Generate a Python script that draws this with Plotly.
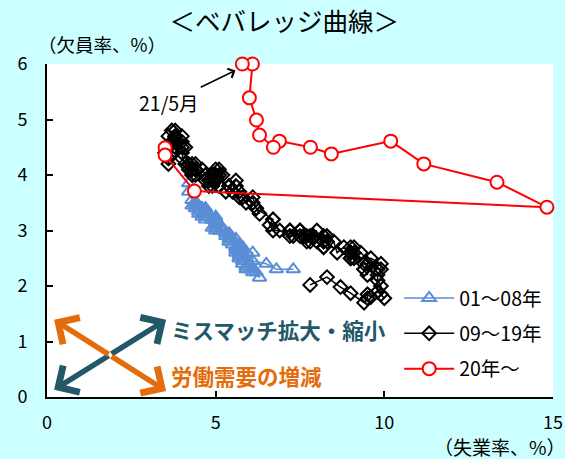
import plotly.graph_objects as go

# Beveridge curve: unemployment rate (x) vs vacancy rate (y), monthly

# 2001-2008
u_0108 = [4.2, 4.2, 4.3, 4.4, 4.3, 4.5, 4.6, 4.9, 5.0, 5.3, 5.5, 5.7,
          5.7, 5.7, 5.7, 5.9, 5.8, 5.8, 5.8, 5.7, 5.7, 5.7, 5.9, 6.0,
          5.8, 5.9, 5.9, 6.0, 6.1, 6.3, 6.2, 6.1, 6.1, 6.0, 5.8, 5.7,
          5.7, 5.6, 5.8, 5.6, 5.6, 5.6, 5.5, 5.4, 5.4, 5.5, 5.4, 5.4,
          5.3, 5.4, 5.2, 5.2, 5.1, 5.0, 5.0, 4.9, 5.0, 5.0, 5.0, 4.9,
          4.7, 4.8, 4.7, 4.7, 4.6, 4.6, 4.7, 4.7, 4.5, 4.4, 4.5, 4.4,
          4.6, 4.5, 4.4, 4.5, 4.4, 4.6, 4.7, 4.6, 4.7, 4.7, 4.7, 5.0,
          5.0, 4.9, 5.1, 5.0, 5.4, 5.6, 5.8, 6.1, 6.1, 6.5, 6.8, 7.3]
v_0108 = [3.85, 3.7, 3.55, 3.4, 3.45, 3.35, 3.3, 3.2, 3.05, 2.95, 2.85, 2.75,
          2.7, 2.6, 2.65, 2.6, 2.5, 2.6, 2.55, 2.5, 2.6, 2.5, 2.45, 2.4,
          2.4, 2.35, 2.3, 2.3, 2.25, 2.15, 2.25, 2.3, 2.3, 2.4, 2.45, 2.5,
          2.55, 2.6, 2.55, 2.65, 2.7, 2.7, 2.75, 2.8, 2.8, 2.85, 2.85, 2.9,
          2.9, 2.95, 3.0, 3.05, 3.0, 3.1, 3.15, 3.2, 3.2, 3.15, 3.25, 3.2,
          3.3, 3.25, 3.4, 3.35, 3.4, 3.3, 3.35, 3.4, 3.3, 3.45, 3.4, 3.5,
          3.4, 3.45, 3.5, 3.35, 3.5, 3.4, 3.3, 3.25, 3.3, 3.2, 3.25, 3.2,
          3.1, 3.05, 3.0, 3.0, 2.9, 2.85, 2.7, 2.6, 2.45, 2.4, 2.3, 2.3]

# 2009-2019
u_0919 = [7.8, 8.3, 8.7, 9.0, 9.4, 9.5, 9.5, 9.6, 9.8, 10.0, 9.9, 9.9,
          9.8, 9.8, 9.9, 9.9, 9.6, 9.4, 9.4, 9.5, 9.5, 9.4, 9.8, 9.3,
          9.1, 9.0, 9.0, 9.1, 9.0, 9.1, 9.0, 9.0, 9.0, 8.8, 8.6, 8.5,
          8.3, 8.3, 8.2, 8.2, 8.2, 8.2, 8.2, 8.0, 7.8, 7.8, 7.7, 7.9,
          8.0, 7.7, 7.5, 7.6, 7.5, 7.5, 7.3, 7.2, 7.2, 7.2, 6.9, 6.7,
          6.6, 6.7, 6.7, 6.2, 6.3, 6.1, 6.2, 6.1, 5.9, 5.7, 5.8, 5.6,
          5.7, 5.5, 5.4, 5.4, 5.6, 5.3, 5.2, 5.1, 5.0, 5.0, 5.1, 5.0,
          4.9, 4.9, 5.0, 5.1, 4.8, 4.9, 4.8, 4.9, 5.0, 4.9, 4.7, 4.7,
          4.7, 4.6, 4.4, 4.4, 4.4, 4.3, 4.3, 4.4, 4.3, 4.2, 4.2, 4.1,
          4.0, 4.1, 4.0, 4.0, 3.8, 4.0, 3.8, 3.8, 3.7, 3.8, 3.8, 3.9,
          4.0, 3.8, 3.8, 3.7, 3.6, 3.6, 3.7, 3.7, 3.5, 3.6, 3.6, 3.6]
v_0919 = [2.02, 2.16, 1.98, 1.87, 1.70, 1.78, 1.85, 1.80, 1.90, 1.78, 1.85, 2.0,
          2.1, 2.2, 2.3, 2.4, 2.5, 2.3, 2.3, 2.2, 2.4, 2.4, 2.3, 2.6,
          2.5, 2.6, 2.7, 2.6, 2.5, 2.7, 2.6, 2.5, 2.6, 2.7, 2.6, 2.8,
          2.9, 2.8, 2.9, 2.8, 2.7, 2.8, 2.7, 2.8, 2.8, 2.9, 2.8, 2.9,
          3.0, 2.9, 3.0, 2.9, 3.0, 2.9, 2.9, 3.0, 3.0, 2.9, 3.0, 3.0,
          3.1, 3.2, 3.2, 3.4, 3.3, 3.5, 3.4, 3.6, 3.5, 3.7, 3.6, 3.8,
          3.6, 3.7, 3.8, 3.8, 3.9, 3.7, 4.0, 3.8, 3.9, 4.0, 4.1, 4.1,
          3.9, 4.0, 3.9, 4.0, 3.8, 3.9, 3.9, 3.8, 4.0, 3.9, 4.0, 3.9,
          4.0, 4.1, 4.0, 4.1, 4.2, 4.0, 4.2, 4.1, 4.1, 4.2, 4.1, 4.2,
          4.3, 4.5, 4.4, 4.5, 4.5, 4.6, 4.6, 4.7, 4.8, 4.6, 4.7, 4.6,
          4.7, 4.6, 4.8, 4.6, 4.7, 4.5, 4.6, 4.4, 4.4, 4.3, 4.3, 4.2]

# 2020 onward (through 2021/5)
u_20 = [3.5, 3.5, 4.37, 14.82, 13.34, 11.17, 10.19, 8.43, 7.81, 6.89, 6.71,
        6.30, 6.21, 6.0, 6.09, 5.79]
v_20 = [4.49, 4.36, 3.71, 3.42, 3.87, 4.20, 4.61, 4.38, 4.50, 4.61, 4.50,
        4.72, 4.99, 5.39, 6.0, 6.0]

series_names = ["01～08年", "09～19年", "20年～"]
x_ticks = [0, 5, 10, 15]
y_ticks = [0, 1, 2, 3, 4, 5, 6]

FONT = "Noto Sans CJK JP"
BLUE = "#5A8ED6"
TEAL = "#215968"
ORANGE = "#E46C0A"

fig = go.Figure()

fig.add_trace(go.Scatter(
    x=u_0108, y=v_0108, name=series_names[0], mode="lines+markers",
    line=dict(color=BLUE, width=1.5),
    marker=dict(symbol="triangle-up-open", size=12, color=BLUE,
                line=dict(width=2, color=BLUE)),
    cliponaxis=False, legendgroup="a",
))
fig.add_trace(go.Scatter(
    x=u_0919, y=v_0919, name=series_names[1], mode="lines+markers",
    line=dict(color="black", width=1.5),
    marker=dict(symbol="diamond-open", size=10.5, color="black",
                line=dict(width=2, color="black")),
    cliponaxis=False, legendgroup="b",
))
fig.add_trace(go.Scatter(
    x=u_20, y=v_20, name=series_names[2], mode="lines+markers",
    line=dict(color="#FF0000", width=2),
    marker=dict(symbol="circle", size=13, color="white",
                line=dict(width=2, color="#FF0000")),
    cliponaxis=False, legendgroup="c",
))

annotations = []

# double-headed arrows: each drawn as two heads pointing out from the crossing
def double_arrow(p0, p1, color):
    cx, cy = (p0[0] + p1[0]) / 2, (p0[1] + p1[1]) / 2
    for px, py in (p0, p1):
        annotations.append(dict(
            x=px, y=py, ax=cx, ay=cy, xref="x", yref="y", axref="x", ayref="y",
            showarrow=True, arrowhead=4, arrowsize=1.1, arrowwidth=5.5,
            arrowcolor=color, text="", standoff=0,
        ))

double_arrow((0.21, 0.13), (3.53, 1.39), TEAL)
double_arrow((0.21, 1.39), (3.53, 0.11), ORANGE)

annotations += [
    dict(x=3.62, y=1.22, xref="x", yref="y", text="<b>ミスマッチ拡大・縮小</b>",
         showarrow=False, xanchor="left", yanchor="middle",
         font=dict(family=FONT, size=21.5, color=TEAL)),
    dict(x=3.62, y=0.38, xref="x", yref="y", text="<b>労働需要の増減</b>",
         showarrow=False, xanchor="left", yanchor="middle",
         font=dict(family=FONT, size=21.5, color=ORANGE)),
    dict(x=u_20[-1] - 0.15, y=v_20[-1] - 0.1, xref="x", yref="y", text="21/5月",
         showarrow=True, arrowhead=4, arrowsize=1.3, arrowwidth=1.5,
         arrowcolor="black", ax=-68, ay=33, standoff=2,
         font=dict(family=FONT, size=19.5, color="black")),
    dict(x=-0.022, y=1.06, xref="paper", yref="paper", text="（欠員率、%）",
         showarrow=False, xanchor="left", yanchor="middle",
         font=dict(family=FONT, size=18.5, color="black")),
    dict(x=1.03, y=-0.148, xref="paper", yref="paper", text="（失業率、%）",
         showarrow=False, xanchor="right", yanchor="middle",
         font=dict(family=FONT, size=19, color="black")),
]

fig.update_layout(
    width=565, height=459,
    margin=dict(l=47, r=12, t=64, b=62, autoexpand=False),
    paper_bgcolor="#CCFFFF",
    plot_bgcolor="white",
    font=dict(family=FONT, size=18, color="black"),
    title=dict(text="＜ベバレッジ曲線＞", x=0.503, xanchor="center",
               y=0.952, yanchor="middle",
               font=dict(family=FONT, size=25.5, color="black")),
    xaxis=dict(range=[0, 15], tickvals=x_ticks, ticks="inside", ticklen=6,
               tickwidth=1.5, tickcolor="black", showline=True, linecolor="black",
               linewidth=2, showgrid=False, zeroline=False, ticklabelstandoff=8,
               automargin=False, tickfont=dict(family=FONT, size=18)),
    yaxis=dict(range=[0, 6], tickvals=y_ticks, ticks="inside", ticklen=6,
               tickwidth=1.5, tickcolor="black", showline=True, linecolor="black",
               linewidth=2, showgrid=False, zeroline=False, ticklabelstandoff=14,
               automargin=False, tickfont=dict(family=FONT, size=18)),
    legend=dict(x=0.696, y=0.355, xanchor="left", yanchor="top",
                bgcolor="rgba(255,255,255,0)", traceorder="grouped",
                tracegroupgap=7, itemwidth=50,
                font=dict(family=FONT, size=19.5)),
    annotations=annotations,
    showlegend=True,
)

fig.write_html("out.html")
